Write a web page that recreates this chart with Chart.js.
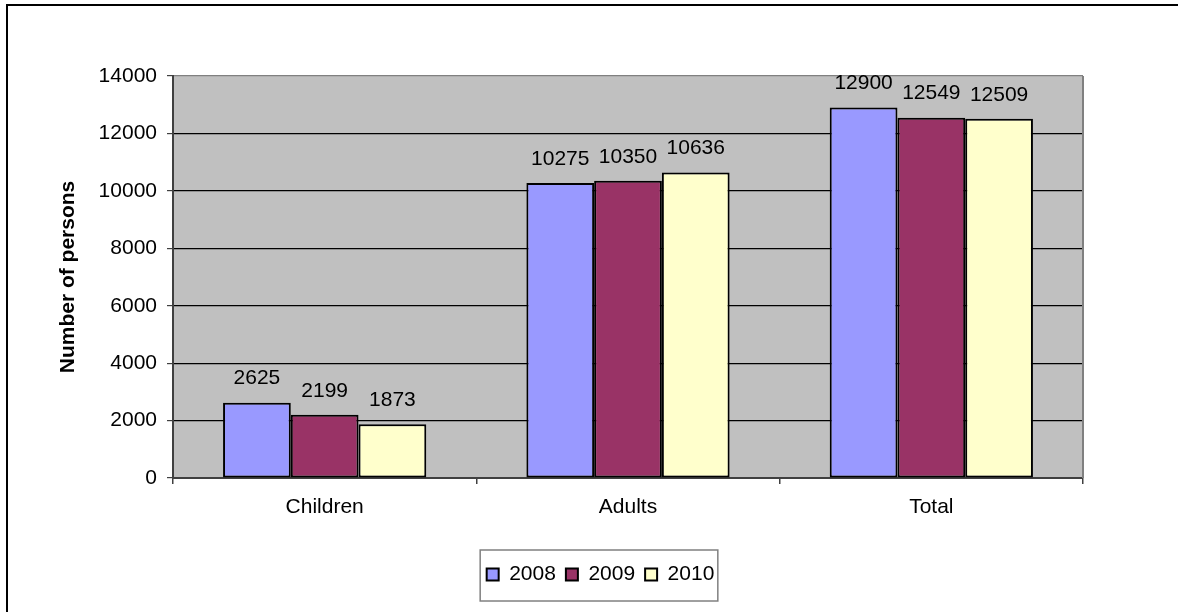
<!DOCTYPE html>
<html>
<head>
<meta charset="utf-8">
<title>Number of persons 2008-2010</title>
<script src="https://cdn.jsdelivr.net/npm/chart.js"></script>
<style>
  html, body { margin: 0; padding: 0; background: #fff; }
  canvas { display: block; }
</style>
</head>
<body>
<canvas id="personsChart" width="1178" height="612"></canvas>
<script>
// data
const categories = ['Children', 'Adults', 'Total'];
const years = ['2008', '2009', '2010'];
const values2008 = [2625, 10275, 12900];
const values2009 = [2199, 10350, 12549];
const values2010 = [1873, 10636, 12509];
const yMin = 0;
const yMax = 14000;
const yStep = 2000;

const FONT = "'Liberation Sans', Arial, sans-serif";
const fills = ['#9999FF', '#993366', '#FFFFCC'];

// grå plotyta + ram runt hela diagrammet
const backgroundPlugin = {
  id: 'background',
  afterLayout(chart) {
    // flytta legenden lite åt höger (centrerad under hela bilden)
    chart.legend.left += 36;
    chart.legend.right += 36;
  },
  beforeDraw(chart) {
    const { ctx, chartArea: a } = chart;
    ctx.save();
    ctx.fillStyle = '#C0C0C0';
    ctx.fillRect(a.left, a.top, a.right - a.left, a.bottom - a.top);
    // yttre ram (vänster + topp)
    ctx.strokeStyle = '#000';
    ctx.lineWidth = 2;
    ctx.beginPath();
    ctx.moveTo(7, chart.height);
    ctx.lineTo(7, 5);
    ctx.lineTo(chart.width, 5);
    ctx.stroke();
    ctx.restore();
  },
  afterDraw(chart) {
    const { ctx, chartArea: a, legend } = chart;
    ctx.save();
    // höger kant på plotytan
    ctx.strokeStyle = '#808080';
    ctx.lineWidth = 2;
    ctx.beginPath();
    ctx.moveTo(a.right, a.top);
    ctx.lineTo(a.right, a.bottom);
    ctx.stroke();

    // ruta runt legenden
    const boxes = legend.legendHitBoxes;
    if (boxes && boxes.length) {
      const left = Math.min(...boxes.map(b => b.left)) - 7;
      const right = Math.max(...boxes.map(b => b.left + b.width)) + 3;
      const mid = boxes[0].top + boxes[0].height / 2;
      ctx.lineWidth = 1.5;
      ctx.strokeRect(left + 0.5, mid - 25 + 0.5, right - left, 51);
    }
    ctx.restore();
  }
};

// värden ovanför staplarna
const valueLabels = {
  id: 'valueLabels',
  afterDatasetsDraw(chart) {
    const { ctx } = chart;
    ctx.save();
    ctx.font = '21px ' + FONT;
    ctx.fillStyle = '#000';
    ctx.textAlign = 'center';
    ctx.textBaseline = 'middle';
    chart.data.datasets.forEach((ds, di) => {
      chart.getDatasetMeta(di).data.forEach((bar, i) => {
        ctx.fillText(String(ds.data[i]), bar.x, bar.y - 24);
      });
    });
    ctx.restore();
  }
};

const seriesData = [values2008, values2009, values2010];

new Chart(document.getElementById('personsChart'), {
  type: 'bar',
  data: {
    labels: categories,
    datasets: years.map((y, i) => ({
      label: y,
      data: seriesData[i],
      backgroundColor: fills[i],
      borderColor: '#000',
      borderWidth: 2,
      borderSkipped: false,
      categoryPercentage: 0.67,
      barPercentage: 1.0
    }))
  },
  options: {
    responsive: false,
    animation: false,
    layout: { padding: { left: 46, right: 95, top: 76, bottom: 17 } },
    plugins: {
      tooltip: { enabled: false },
      legend: {
        position: 'bottom',
        labels: {
          boxWidth: 12,
          boxHeight: 12,
          padding: 10,
          color: '#000',
          font: { family: FONT, size: 21 }
        }
      }
    },
    scales: {
      x: {
        afterFit(scale) { scale.height = 76; },
        grid: {
          drawOnChartArea: false,
          drawTicks: true,
          tickLength: 6,
          color: '#404040',
          lineWidth: 1.5
        },
        border: { color: '#404040', width: 2 },
        ticks: {
          color: '#000',
          padding: 11,
          font: { family: FONT, size: 21 }
        }
      },
      y: {
        min: yMin,
        max: yMax,
        afterFit(scale) { scale.width = 127; },
        grid: {
          color: c => {
            if (c.tick && c.tick.value === yMax) return '#808080';
            if (c.tick && c.tick.value === yMin) return 'rgba(0,0,0,0)';
            return '#000';
          },
          lineWidth: 1.2,
          tickColor: '#404040',
          tickLength: 6
        },
        border: { color: '#404040', width: 2 },
        ticks: {
          stepSize: yStep,
          callback: v => String(v),
          color: '#000',
          padding: 10,
          font: { family: FONT, size: 21 }
        },
        title: {
          display: true,
          text: 'Number of persons',
          color: '#000',
          padding: { top: 10, bottom: 0 },
          font: { family: FONT, size: 21, weight: 'bold' }
        }
      }
    }
  },
  plugins: [backgroundPlugin, valueLabels]
});
</script>
</body>
</html>
